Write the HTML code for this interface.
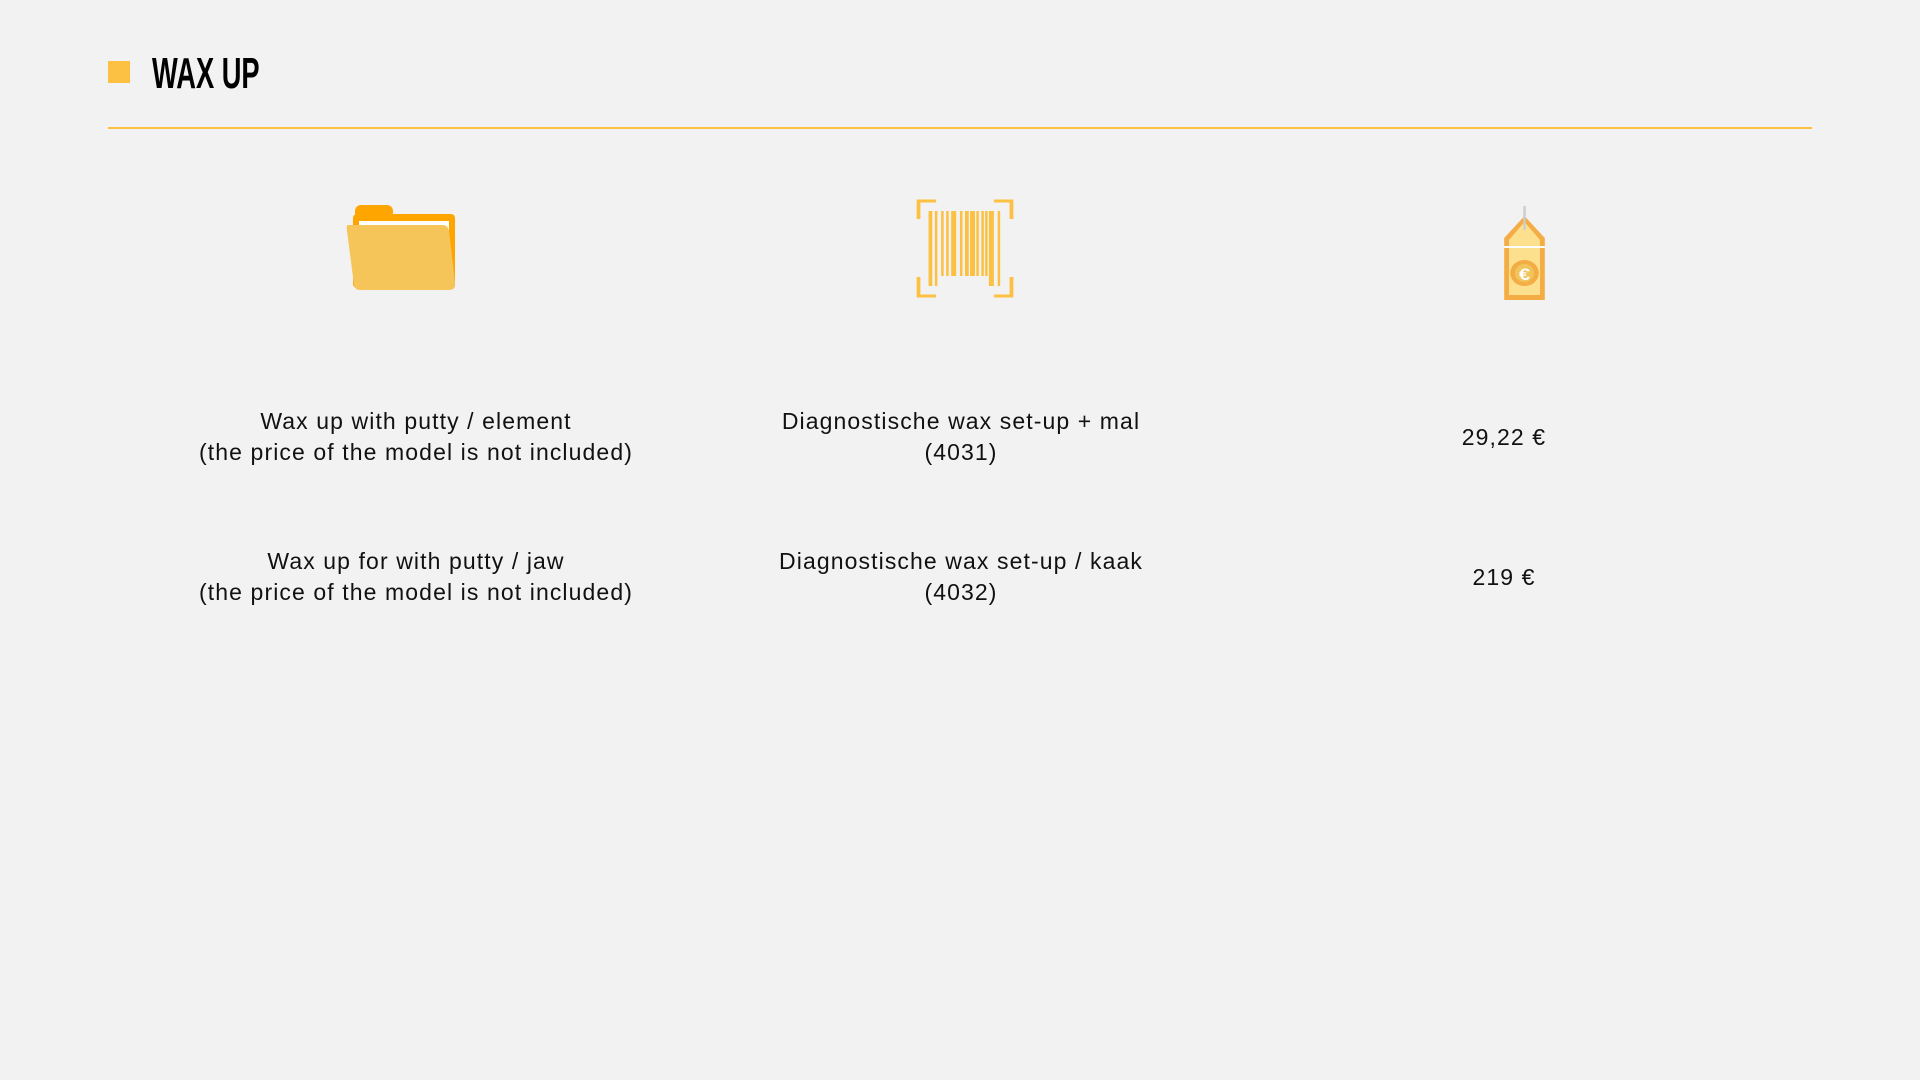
<!DOCTYPE html>
<html><head><meta charset="utf-8"><style>
body{margin:0;width:1920px;height:1080px;background:#f2f2f2;position:relative;overflow:hidden;font-family:"Liberation Sans",sans-serif;color:#111}
.t{position:absolute;width:700px;text-align:center;font-size:23px;letter-spacing:1.1px;line-height:31px;transform:translateX(-50%)}
</style></head><body>
<div style="position:absolute;left:108px;top:61px;width:22px;height:22px;background:#fcc143"></div>
<div style="position:absolute;left:152px;top:48px;font-size:44px;font-weight:bold;line-height:52px;transform:scaleX(0.62);transform-origin:left top;color:#000">WAX UP</div>
<div style="position:absolute;left:108px;top:127px;width:1704px;height:2px;background:#fcc143"></div>

<svg style="position:absolute;left:345px;top:205px" width="115" height="90" viewBox="0 0 115 90">
<rect x="10" y="0" width="38" height="14" rx="6" fill="#ffa500"/>
<rect x="8" y="9" width="102" height="74" rx="4" fill="#ffa500"/>
<rect x="14" y="16" width="90" height="60" fill="#fff"/>
<path d="M3 20 H97 Q103 20 104 26 L110 78 Q111 85 104 85 H15 Q10 85 9 80 L2 26 Q1 20 3 20Z" fill="#f6c55a"/>
</svg>

<svg style="position:absolute;left:916px;top:199px" width="98" height="100" viewBox="0 0 78 100" preserveAspectRatio="none">
<g fill="none" stroke="#fcc143" stroke-width="3">
<path d="M2 20 V2 H16 M62 2 H76 V20 M2 78 V97 H16 M62 97 H76 V78"/></g>
<g fill="#fcc143">
<rect x="10" y="12" width="3" height="75"/><rect x="15" y="12" width="2" height="75"/><rect x="20" y="12" width="2" height="65"/><rect x="24" y="12" width="2" height="65"/><rect x="28" y="12" width="4" height="65"/><rect x="35" y="12" width="2" height="65"/><rect x="39" y="12" width="3" height="65"/><rect x="43" y="12" width="4" height="65"/><rect x="48" y="12" width="2" height="65"/><rect x="52" y="12" width="2" height="65"/><rect x="55" y="12" width="2" height="65"/><rect x="58" y="12" width="4" height="75"/><rect x="65" y="12" width="2" height="75"/>
</g></svg>

<svg style="position:absolute;left:1503px;top:206px" width="43" height="95" viewBox="0 0 36 95" preserveAspectRatio="none">
<path d="M1 32 L18 10 L35 32 V94 H1Z" fill="#f4ac45"/>
<path d="M5 34 L18 16 L31 34 V89 H5Z" fill="#fde08e"/>
<rect x="1" y="40" width="34" height="2" fill="#fff"/>
<ellipse cx="18" cy="67" rx="12" ry="13" fill="#f4ac45"/>
<ellipse cx="18" cy="67" rx="8" ry="9" fill="#efc55c"/>
<text x="18" y="74" text-anchor="middle" font-size="17" font-weight="bold" fill="#fff" font-family="Liberation Sans">€</text>
<rect x="17" y="0" width="2" height="24" fill="#ccc"/>
</svg>

<div class="t" style="left:416px;top:406px">Wax up with putty / element<br>(the price of the model is not included)</div>
<div class="t" style="left:961px;top:406px">Diagnostische wax set-up + mal<br>(4031)</div>
<div class="t" style="left:1504px;top:422px">29,22 €</div>
<div class="t" style="left:416px;top:546px">Wax up for with putty / jaw<br>(the price of the model is not included)</div>
<div class="t" style="left:961px;top:546px">Diagnostische wax set-up / kaak<br>(4032)</div>
<div class="t" style="left:1504px;top:562px">219 €</div>
</body></html>
